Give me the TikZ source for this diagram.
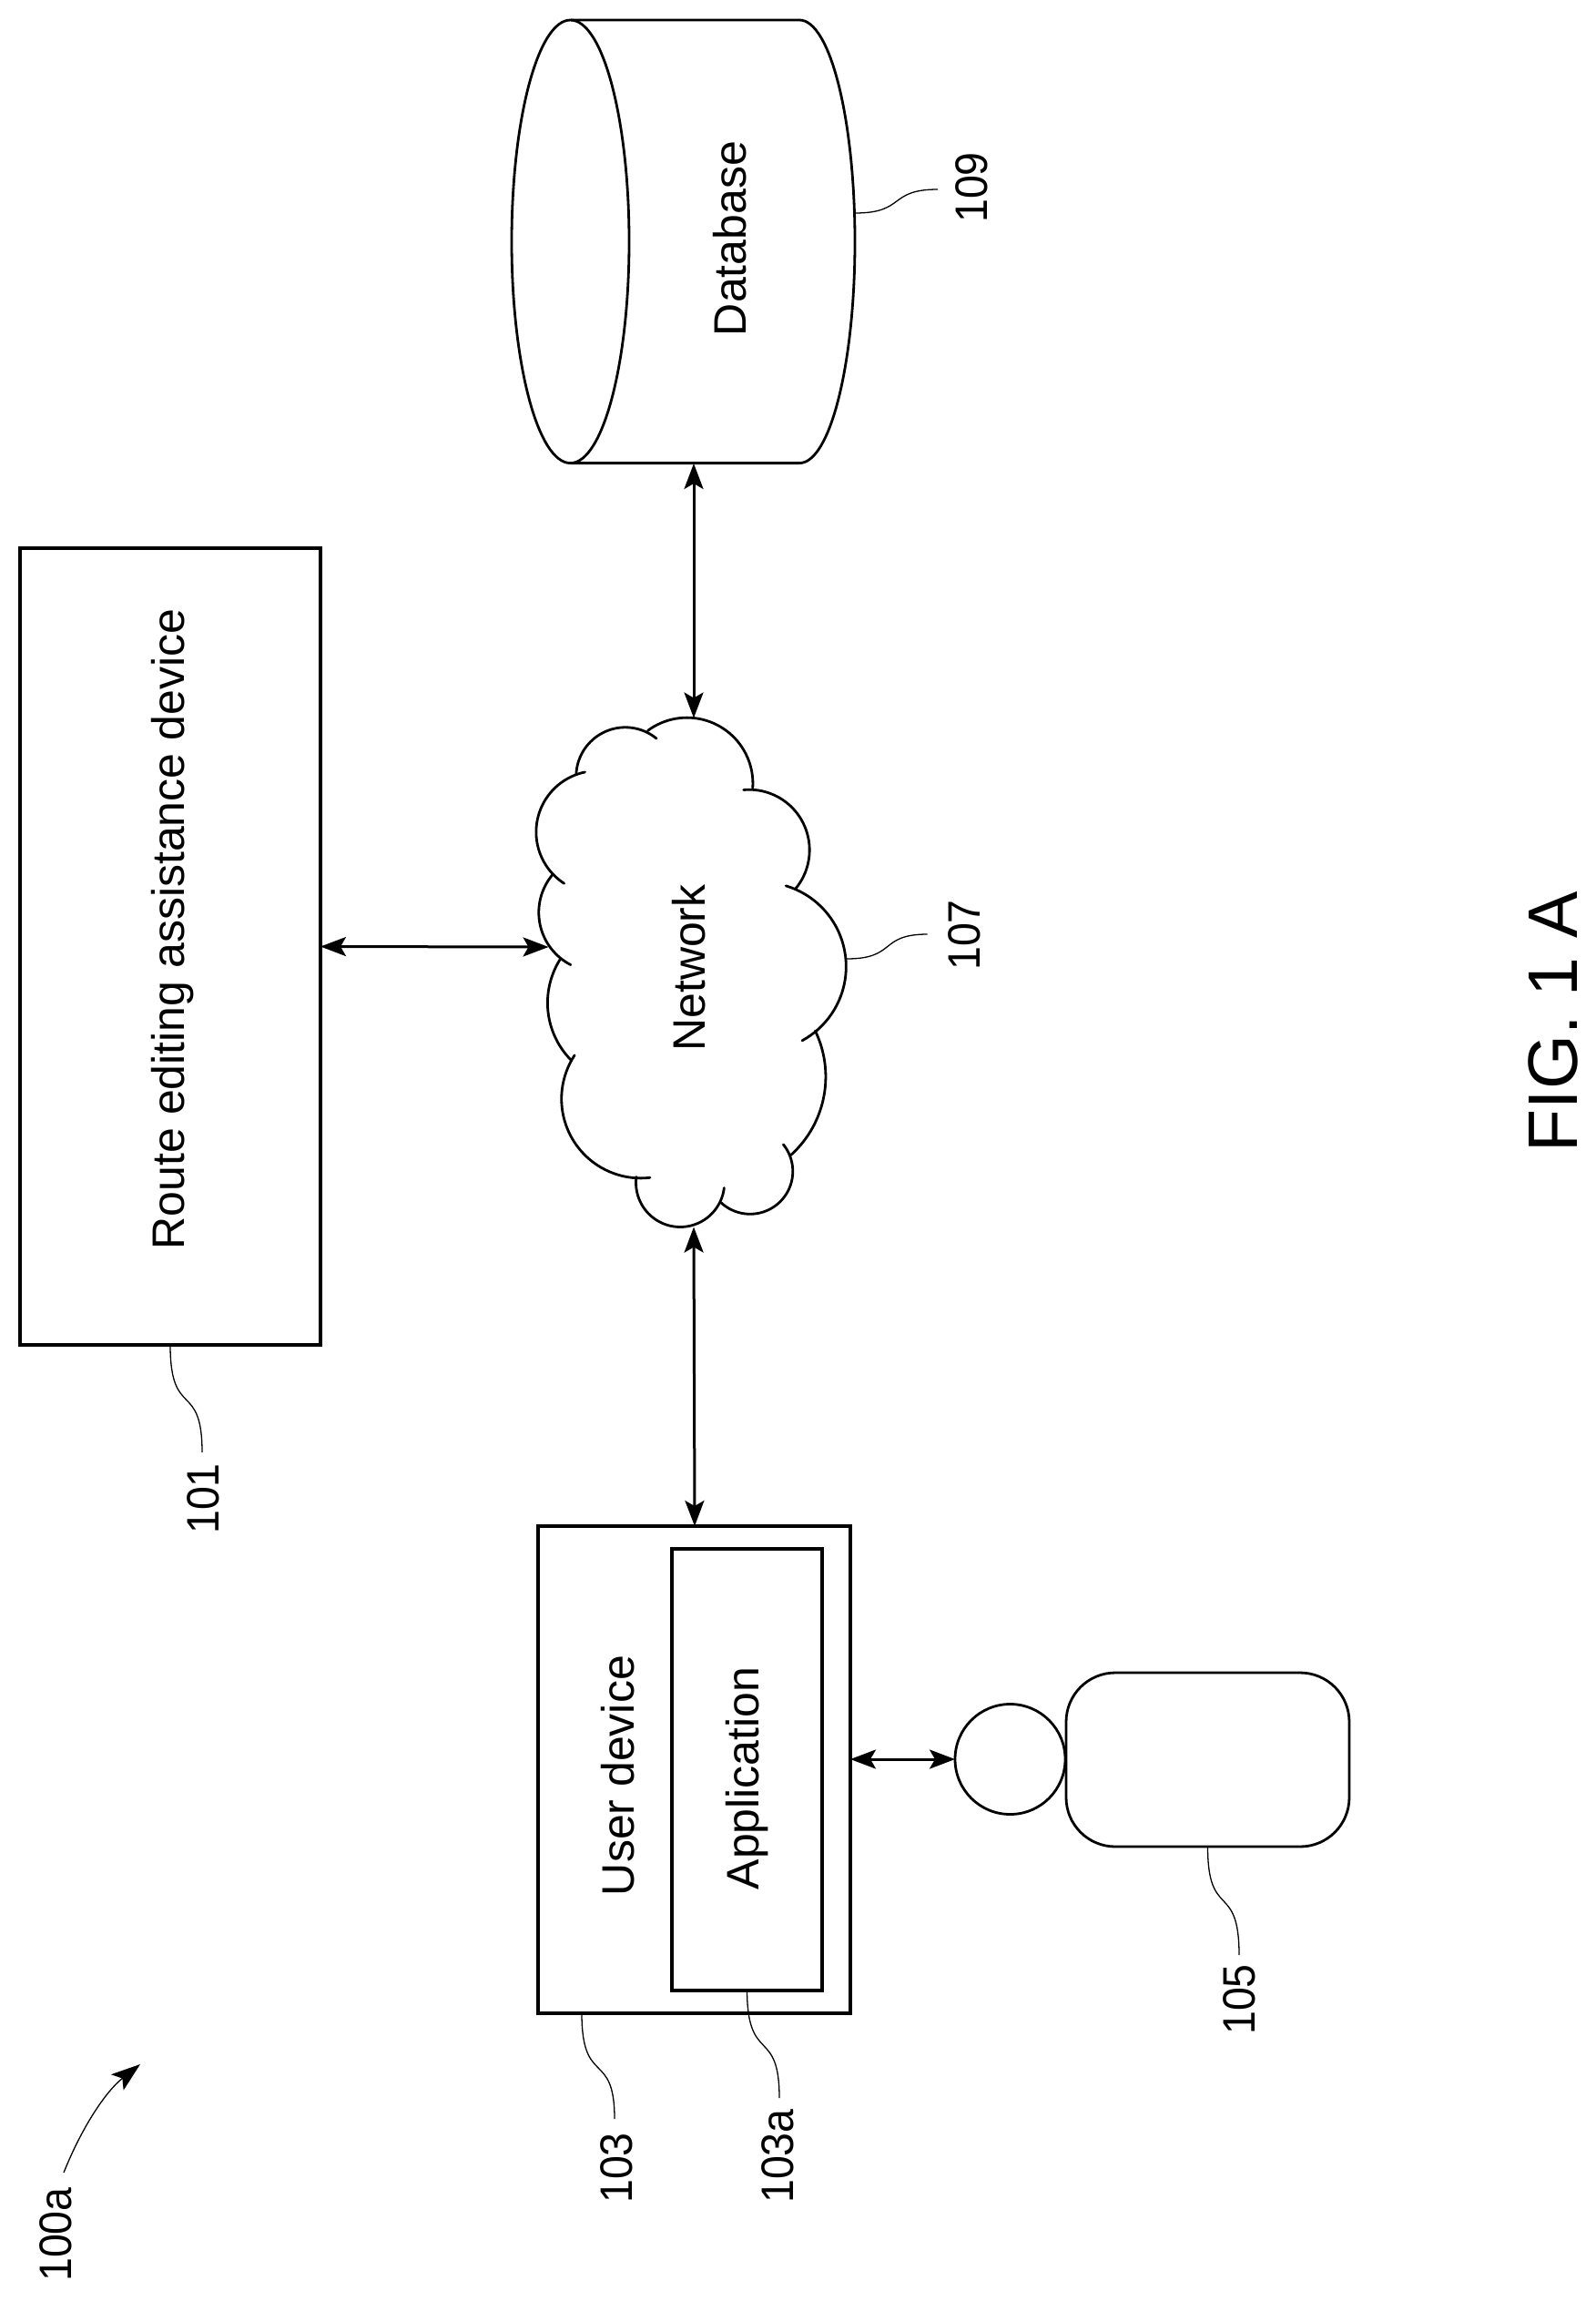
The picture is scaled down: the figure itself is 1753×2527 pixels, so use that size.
\documentclass[tikz,border=0pt]{standalone}
\usepackage{fontspec}
\setmainfont{Liberation Sans}
\usetikzlibrary{arrows.meta}
\tikzset{
  stroke/.style={line width=3.3pt,black},
  outline/.style={line width=2.8pt,black},
  boxst/.style={draw,stroke,rectangle,inner sep=0pt,outer sep=0pt},
  bodyst/.style={draw,outline,rectangle,inner sep=0pt,outer sep=0pt},
  headst/.style={draw,outline,circle,inner sep=0pt,outer sep=0pt,minimum size=121pt},
  biarrow/.style={line width=3pt,{Stealth[length=28pt,width=21pt,inset=6pt]}-{Stealth[length=28pt,width=21pt,inset=6pt]}},
  leader/.style={line width=1.3pt,black},
  txt/.style={rotate=90,anchor=base,inner sep=0pt,font=\fontsize{50}{60}\selectfont},
  numtxt/.style={txt,xscale=0.93},
  figtxt/.style={rotate=90,anchor=base,inner sep=0pt,font=\fontsize{77}{90}\selectfont},
  cloudarc/.style={outline,line cap=round,line join=round},
}
% circular arc through three points read in the cloud's crop coordinates
\newcommand\cloudseg[6]{%
  \pgfmathsetmacro\pAx{(540+#1/2.8)/100}%
  \pgfmathsetmacro\pAy{(720+#2/2.306)/100}%
  \pgfmathsetmacro\pBx{(540+#3/2.8)/100-\pAx}%
  \pgfmathsetmacro\pBy{(720+#4/2.306)/100-\pAy}%
  \pgfmathsetmacro\pCx{(540+#5/2.8)/100-\pAx}%
  \pgfmathsetmacro\pCy{(720+#6/2.306)/100-\pAy}%
  \pgfmathsetmacro\pD{2*(\pBx*\pCy-\pBy*\pCx)}%
  \pgfmathsetmacro\pBB{\pBx*\pBx+\pBy*\pBy}%
  \pgfmathsetmacro\pCC{\pCx*\pCx+\pCy*\pCy}%
  \pgfmathsetmacro\pUx{(\pCy*\pBB-\pBy*\pCC)/\pD}%
  \pgfmathsetmacro\pUy{(\pBx*\pCC-\pCx*\pBB)/\pD}%
  \pgfmathsetmacro\pR{100*sqrt(\pUx*\pUx+\pUy*\pUy)}%
  \pgfmathsetmacro\pStart{atan2(-\pUy,-\pUx)}%
  \pgfmathsetmacro\pMid{Mod(atan2(\pBy-\pUy,\pBx-\pUx)-\pStart,360)}%
  \pgfmathsetmacro\pEnd{Mod(atan2(\pCy-\pUy,\pCx-\pUx)-\pStart,360)}%
  \pgfmathsetmacro\pStop{\pMid<\pEnd ? \pStart+\pEnd : \pStart+\pEnd-360}%
  \pgfmathsetmacro\pOx{100*(\pAx+\pUx)}%
  \pgfmathsetmacro\pOy{100*(\pAy+\pUy)}%
  \draw[cloudarc] plot[domain=\pStart:\pStop,samples=40,variable=\tta] ({\pOx+\pR*cos(\tta)},{\pOy+\pR*sin(\tta)});%
}
\begin{document}
\begin{tikzpicture}[x=1pt,y=-1pt]
\useasboundingbox (0,0) rectangle (1753,2527);
% route box
\node[boxst,minimum width=330pt,minimum height=875pt] (route) at (187,1039.5) {};
\node[txt] (routeT) at (202,1020.5) {Route editing assistance device};
% database
\draw[outline] (627,22) -- (878,22) .. controls (911.7,22) and (939,130.9) .. (939,265.3) .. controls (939,399.7) and (911.7,508.6) .. (878,508.6) -- (627,508.6);
\draw[outline] (691,265.3) .. controls (691,130.9) and (662,22) .. (626.5,22) .. controls (591,22) and (562,130.9) .. (562,265.3) .. controls (562,399.7) and (591,508.6) .. (626.5,508.6) .. controls (662,508.6) and (691,399.7) .. (691,265.3) -- cycle;
\node[txt] (db) at (819,262) {Database};
\coordinate (dbS) at (762,509);
\coordinate (dbR) at (939,234);
% cloud
\cloudseg{480}{190}{622}{158}{803}{335}
\cloudseg{775}{340}{940}{400}{935}{590}
\cloudseg{905}{583}{1090}{780}{955}{975}
\cloudseg{995}{950}{1027}{1080}{920}{1265}
\cloudseg{897}{1238}{860}{1400}{705}{1385}
\cloudseg{715}{1348}{580}{1447}{445}{1320}
\cloudseg{487}{1322}{225}{1180}{255}{1012}
\cloudseg{245}{1025}{172}{880}{210}{770}
\cloudseg{243}{783}{145}{650}{187}{555}
\cloudseg{223}{577}{137}{440}{287}{295}
\cloudseg{260}{300}{400}{182}{507}{210}
\coordinate (netT) at (762,788.5);
\coordinate (netB) at (762,1347.5);
\coordinate (netL) at (602.5,1040);
\coordinate (netR) at (930,1053);
\node[txt] (net) at (774,1063) {Network};
% user device
\node[boxst,minimum width=343pt,minimum height=535pt] (user) at (762.5,1943.5) {};
\node[boxst,minimum width=165pt,minimum height=485pt] (app) at (820.5,1943.5) {};
\node[txt] (userT) at (696,1950) {User device};
\node[txt] (appT) at (833,1953) {Application};
\coordinate (userB) at (639,2211);
\coordinate (userT0) at (763,1676);
% person
\node[headst] (head) at (1109.5,1932) {};
\node[bodyst,rounded corners=54pt,minimum width=311pt,minimum height=191pt] (body) at (1326.5,1932.5) {};
% connectors
\draw[biarrow] (route.east) -- (netL);
\draw[biarrow] (dbS) -- (netT);
\draw[biarrow] (netB) -- (userT0);
\draw[biarrow] (user.east |- head.west) -- (head.west);
% leaders and labels
\coordinate (l101) at (222,1595);
\draw[leader] (route.south) .. controls (187,1560) and (222,1515) .. (l101);
\node[numtxt] (n101) at (240,1646) {101};
\coordinate (l103) at (675,2327);
\draw[leader] (userB) .. controls (639,2293) and (675,2250) .. (l103);
\node[numtxt] (n103) at (694,2381) {103};
\coordinate (l103a) at (856,2304);
\draw[leader] (app.south) .. controls (821,2268) and (856,2225) .. (l103a);
\node[numtxt] (n103a) at (871,2368) {103a};
\coordinate (l105) at (1361,2147);
\draw[leader] (body.south) .. controls (1326.5,2110) and (1361,2065) .. (l105);
\node[numtxt] (n105) at (1378,2196) {105};
\coordinate (l107) at (1018.6,1026);
\draw[leader] (netR) .. controls (985,1053) and (965,1026) .. (l107);
\node[numtxt] (n107) at (1076,1027) {107};
\coordinate (l109) at (1030,208);
\draw[leader] (dbR) .. controls (995,234) and (975,208) .. (l109);
\node[numtxt] (n109) at (1084,206) {109};
% overall arrow
\coordinate (a100s) at (70,2386);
\coordinate (a100e) at (154,2267);
\draw[leader,-{Stealth[length=32pt,width=22pt,inset=7pt]}] (a100s) .. controls (90,2336) and (116,2297) .. (a100e);
\node[numtxt] (n100a) at (78,2454) {100a};
\node[figtxt] (fig) at (1732,1122) {FIG. 1 A};
\end{tikzpicture}
\end{document}
